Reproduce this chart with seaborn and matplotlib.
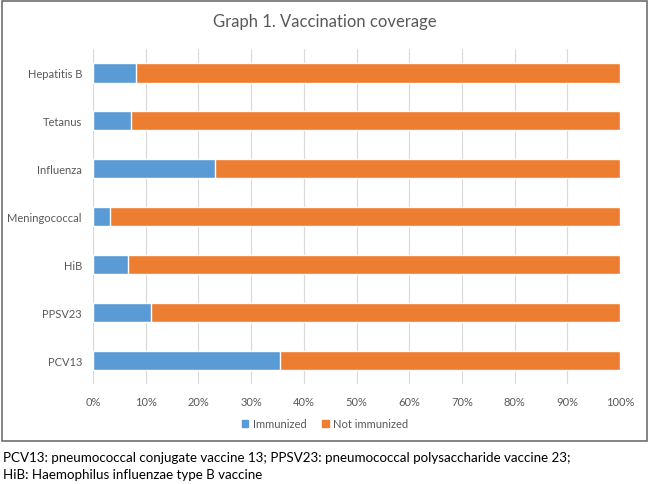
import numpy as np
import pandas as pd
import matplotlib
matplotlib.use("Agg")
import matplotlib.pyplot as plt
import seaborn as sns
from matplotlib.patches import Rectangle, Patch
from matplotlib.ticker import PercentFormatter

vaccines = ["Hepatitis B", "Tetanus", "Influenza", "Meningococcal", "HiB", "PPSV23", "PCV13"]
immunized = [8.2, 7.3, 23.1, 3.2, 6.6, 11.1, 35.4]
not_immunized = [100 - v for v in immunized]

BLUE = "#5B9BD5"
ORANGE = "#ED7D31"
GREY_TXT = "#595959"

df = pd.DataFrame({
    "vaccine": vaccines,
    "Immunized": immunized,
    "Not immunized": not_immunized,
})
df["total"] = df["Immunized"] + df["Not immunized"]

sns.set_theme(style="white")
plt.rcParams["font.family"] = ["Lato", "DejaVu Sans"]

fig = plt.figure(figsize=(6.5, 4.85), dpi=100)
ax = fig.add_axes([93 / 650, 1 - 385 / 485, 527 / 650, 335 / 485])

# stacked bars: full length first, immunized share drawn over it
sns.barplot(data=df, y="vaccine", x="total", color=ORANGE, width=0.4,
            orient="h", ax=ax, saturation=1)
sns.barplot(data=df, y="vaccine", x="Immunized", color=BLUE, width=0.4,
            orient="h", ax=ax, saturation=1)

ax.set_xlim(0, 100)
ax.set_xticks(np.arange(0, 101, 10))
ax.xaxis.set_major_formatter(PercentFormatter(decimals=0))
ax.grid(axis="x", color="#D9D9D9", linewidth=0.8)
ax.set_axisbelow(True)
for s in ax.spines.values():
    s.set_visible(False)
ax.set_xlabel("")
ax.set_ylabel("")
ax.tick_params(axis="both", length=0, labelsize=8, colors=GREY_TXT)
ax.tick_params(axis="x", pad=9)
ax.tick_params(axis="y", pad=8)

fig.text(0.5, 1 - 22 / 485, "Graph 1. Vaccination coverage", ha="center", va="center",
         fontsize=12, color=GREY_TXT)

handles = [Patch(color=BLUE, label="Immunized"), Patch(color=ORANGE, label="Not immunized")]
fig.legend(handles=handles, loc="center", bbox_to_anchor=(0.5, 1 - 425 / 485), ncol=2,
           frameon=False, fontsize=8, handlelength=0.6, handleheight=0.6,
           handletextpad=0.4, columnspacing=1.4, labelcolor=GREY_TXT)

# outer frame of the chart area
fig.patches.append(Rectangle((2 / 650, 1 - 442 / 485), 645 / 650, 440 / 485,
                             transform=fig.transFigure, fill=False,
                             edgecolor="#6E6E6E", linewidth=1.2))

fig.text(3 / 650, 1 - 458 / 485,
         "PCV13: pneumococcal conjugate vaccine 13; PPSV23: pneumococcal polysaccharide vaccine 23;",
         ha="left", va="center", fontsize=9.6, color="black")
fig.text(3 / 650, 1 - 475 / 485, "HiB: Haemophilus influenzae type B vaccine",
         ha="left", va="center", fontsize=9.6, color="black")

fig.savefig("out.png", dpi=100)
